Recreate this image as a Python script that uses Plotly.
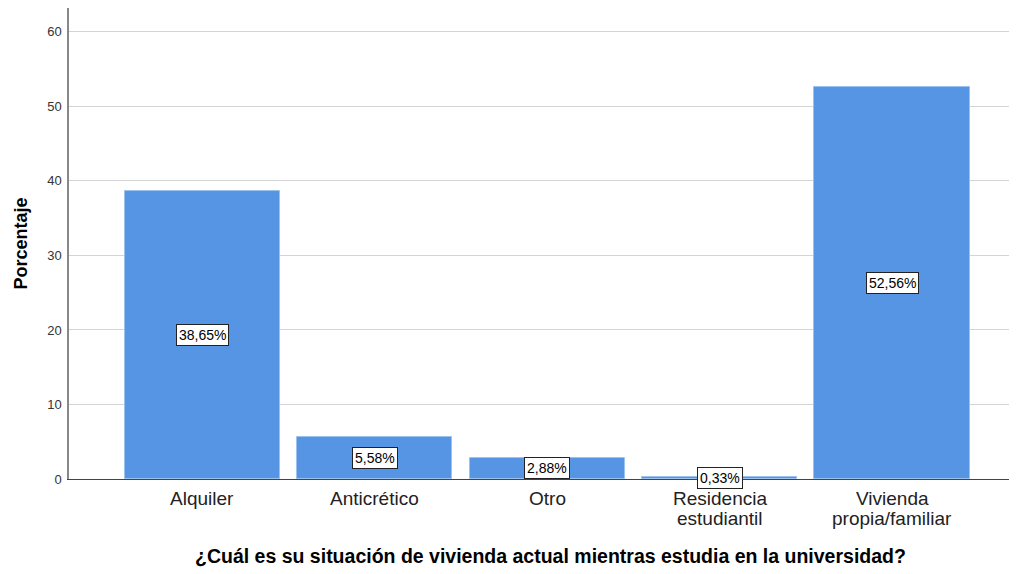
import plotly.graph_objects as go

categories = ["Alquiler", "Anticrético", "Otro", "Residencia estudiantil", "Vivienda propia/familiar"]
cat_lines = [["Alquiler"], ["Anticrético"], ["Otro"], ["Residencia", "estudiantil"], ["Vivienda", "propia/familiar"]]
porcentajes = [38.65, 5.58, 2.88, 0.33, 52.56]
etiquetas = ["38,65%", "5,58%", "2,88%", "0,33%", "52,56%"]
y_ticks = [0, 10, 20, 30, 40, 50, 60]

FONT = "Liberation Sans, Arial, sans-serif"

fig = go.Figure()
fig.add_trace(go.Bar(
    x=categories,
    y=porcentajes,
    width=0.9,
    marker=dict(color="#5595E3", line=dict(color="#9cc2f0", width=1)),
    hoverinfo="x+y",
))

# value boxes in the middle of each bar
for cat, val, txt in zip(categories, porcentajes, etiquetas):
    fig.add_annotation(
        x=cat, y=val / 2, text=txt, showarrow=False,
        font=dict(family=FONT, size=14, color="#000"),
        bgcolor="white", bordercolor="#222", borderwidth=1, borderpad=2,
    )

# category labels, one annotation per line (tight line spacing like SPSS)
for cat, lines in zip(categories, cat_lines):
    for i, line in enumerate(lines):
        fig.add_annotation(
            x=cat, xref="x", y=0, yref="paper", yanchor="middle",
            yshift=-19 - 20 * i, text=line, showarrow=False,
            font=dict(family=FONT, size=19, color="#222"),
        )

# axis titles
fig.add_annotation(
    x=0.5, xref="paper", xshift=7, y=0, yref="paper", yshift=-77,
    yanchor="middle", showarrow=False,
    text="<b>¿Cuál es su situación de vivienda actual mientras estudia en la universidad?</b>",
    font=dict(family=FONT, size=19.5, color="#000"),
)
fig.add_annotation(
    x=0, xref="paper", xshift=-49, y=0.5, yref="paper", textangle=-90,
    xanchor="center", showarrow=False, text="<b>Porcentaje</b>",
    font=dict(family=FONT, size=18, color="#000"),
)

# page body has an 8px margin, so the figure is 8px smaller and shifted
fig.update_layout(
    width=1009, height=566,
    margin=dict(l=61, r=0, t=0, b=95),
    paper_bgcolor="white", plot_bgcolor="white",
    font=dict(family=FONT, color="#222"),
    showlegend=False,
    bargap=0,
    xaxis=dict(
        type="category",
        range=[-0.774, 4.725],
        showgrid=False, automargin=False,
        showline=True, linecolor="#444", linewidth=1,
        ticks="", showticklabels=False,
    ),
    yaxis=dict(
        range=[0, 63.2],
        tickvals=y_ticks, automargin=False,
        showgrid=True, gridcolor="#d4d4d4", gridwidth=1,
        showline=True, linecolor="#888", linewidth=1.5,
        zeroline=False,
        ticks="", ticklabelstandoff=3,
        tickfont=dict(size=13, color="#333"),
    ),
)

fig.write_html("out.html")
